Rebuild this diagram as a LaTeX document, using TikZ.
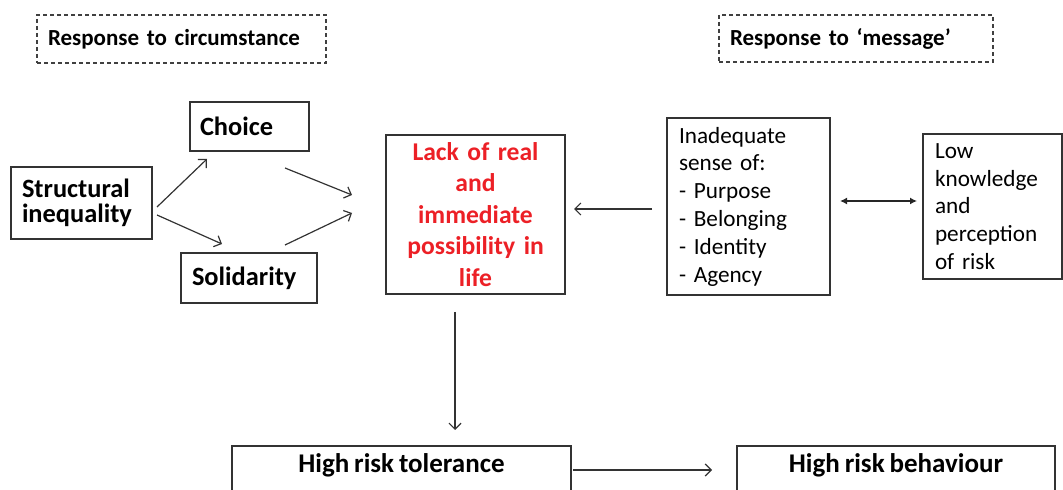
\documentclass[tikz,border=0pt]{standalone}
\usepackage{fontspec}
\setsansfont{Carlito}[WordSpace = 0.8]
\usetikzlibrary{arrows, arrows.meta}
\usetikzlibrary{shapes}
\definecolor{lackRed}{RGB}{236,32,38}

\begin{document}
\begin{tikzpicture}[x = 0.5pt, y = -0.5pt, font=\sffamily]
\tikzstyle{boxStyle} = [draw = black!80, line width = 0.6pt, inner ysep = 0pt, outer sep = 0pt, align = left]
\tikzstyle{headStyle} = [boxStyle, draw = black!75, dash pattern = on 2pt off 1.5pt, inner xsep = 5.5pt, font = \sffamily\bfseries\fontsize{11.5}{12}\selectfont]
\tikzstyle{boldStyle} = [boxStyle, font = \sffamily\bfseries\fontsize{13.2}{12.8}\selectfont]
\tikzstyle{listStyle} = [boxStyle, font = \sffamily\fontsize{11.6}{13.9}\selectfont]
\tikzstyle{lackStyle} = [boxStyle, align = center, text = lackRed, font = \sffamily\bfseries\fontsize{12.8}{15.7}\selectfont]
\tikzstyle{bottomStyle} = [draw = black!80, line width = 0.6pt, inner sep = 0pt, outer sep = 0pt, anchor = north, text height = 13.5pt, text depth = 18pt, font = \sffamily\bfseries\fontsize{13.5}{14}\selectfont]
\tikzstyle{arrowStyle} = [-{Straight Barb[length = 3pt, width = 6pt]}, draw = black!80, line width = 0.6pt]
\tikzstyle{bothStyle} = [{Latex[length = 3.5pt, width = 3.5pt]}-{Latex[length = 3.5pt, width = 3.5pt]}, draw = black!85, line width = 0.7pt]
\useasboundingbox (0,0) rectangle (1063,490);
\clip (0,0) rectangle (1063,490);
\node[headStyle, text width = 133.5pt, minimum height = 24pt] (circ) at (181.5,39) {Response to circumstance};
\node[headStyle, text width = 126pt, minimum height = 23.5pt] (msg) at (856,38.5) {Response to `message'};
\node[boldStyle, inner xsep = 5pt, text width = 49.5pt, minimum height = 24.5pt] (choice) at (249.5,126.5) {Choice};
\node[boldStyle, inner xsep = 5.5pt, text width = 59.5pt, minimum height = 36pt] (struct) at (81.5,203) {Structural\\inequality};
\node[boldStyle, inner xsep = 5.5pt, text width = 57pt, minimum height = 25pt] (solid) at (249,278) {Solidarity};
\node[lackStyle, inner xsep = 2pt, text width = 85.5pt, minimum height = 79.5pt] (lack) at (475.5,214.5) {Lack of real\\and\\immediate\\possibility in\\life};
\node[listStyle, inner xsep = 6pt, text width = 69.5pt, minimum height = 88.5pt] (inad) at (748.5,206.5) {Inadequate\\sense of:\\- Purpose\\- Belonging\\- Identity\\- Agency};
\node[listStyle, inner xsep = 6pt, text width = 57.5pt, minimum height = 72.5pt] (low) at (992.5,206.5) {Low\\knowledge\\and\\perception\\of risk};
\node[bottomStyle, minimum width = 169.5pt] (tol) at (401.5,446) {High risk tolerance};
\node[bottomStyle, minimum width = 159pt] (beh) at (896,446) {High risk behaviour};
\draw[arrowStyle] ([shift={(5,4)}]struct.east) -- ([shift={(17,8)}]choice.south west);
\draw[arrowStyle] ([shift={(5,12)}]struct.east) -- ([shift={(41,-9)}]solid.north west);
\draw[arrowStyle] ([shift={(-24,17)}]choice.south east) -- ([shift={(-34,-19.5)}]lack.west);
\draw[arrowStyle] ([shift={(-32,-8)}]solid.north east) -- ([shift={(-34,-1.5)}]lack.west);
\draw[arrowStyle] ([shift={(-15,2.5)}]inad.west) -- ([shift={(9,-5.5)}]lack.east);
\draw[bothStyle] ([shift={(10,-5.5)}]inad.east) -- ([shift={(-6,-5.5)}]low.west);
\draw[arrowStyle] ([shift={(-20.5,18)}]lack.south) -- ([shift={(53.5,-16)}]tol.north);
\draw[arrowStyle] ([shift={(2,24)}]tol.north east) -- ([shift={(-25,24)}]beh.north west);
\end{tikzpicture}
\end{document}
